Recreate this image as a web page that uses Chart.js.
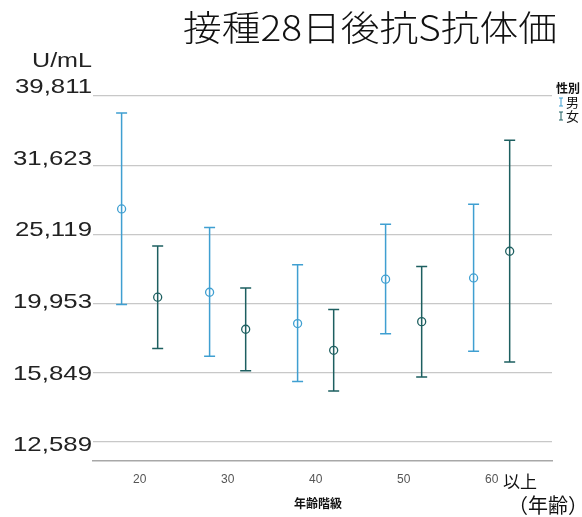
<!DOCTYPE html>
<html>
<head>
<meta charset="utf-8">
<script src="https://cdn.jsdelivr.net/npm/chart.js@4"></script>
<style>
  html, body { margin: 0; padding: 0; background: #fff; }
  #wrap { width: 582px; height: 517px; }
</style>
</head>
<body>
<div id="wrap"><canvas id="c" width="582" height="517"></canvas></div>
<script>
// 年齢階級
const ageGroups = ['20', '30', '40', '50', '60'];
const yTicks = [12589, 15849, 19953, 25119, 31623, 39811];

// 男性: 平均 / 下限 / 上限 (U/mL)
const maleMean = [27340, 20720, 18670, 21640, 21730];
const maleLow  = [19890, 16740, 15390, 18040, 17030];
const maleHigh = [37620, 25700, 22700, 25980, 27770];

// 女性
const femaleMean = [20380, 18320, 17080, 18790, 23750];
const femaleLow  = [17180, 15950, 14920, 15630, 16430];
const femaleHigh = [24170, 21020, 19560, 22570, 34360];

const maleColor = '#3f9fd1';
const femaleColor = '#1d5f60';
const offset = 0.205;

function points(means, shift) {
  return means.map((v, i) => ({ x: i + shift, y: v }));
}

// 横に伸ばした文字を描く
function wideText(ctx, text, x, y, width, align) {
  const w = ctx.measureText(text).width;
  const k = width / w;
  ctx.save();
  ctx.translate(x, y);
  ctx.scale(k, 1);
  ctx.textAlign = align;
  ctx.fillText(text, 0, 0);
  ctx.restore();
}

// 凡例の小さなエラーバー記号
function barIcon(ctx, x, y, color) {
  ctx.save();
  ctx.strokeStyle = color;
  ctx.lineWidth = 1;
  ctx.beginPath();
  ctx.moveTo(x, y - 4); ctx.lineTo(x, y + 4);
  ctx.moveTo(x - 2, y - 4); ctx.lineTo(x + 2, y - 4);
  ctx.moveTo(x - 2, y + 4); ctx.lineTo(x + 2, y + 4);
  ctx.stroke();
  ctx.restore();
}

// エラーバー描画
const errorBars = {
  id: 'errorBars',
  beforeDatasetsDraw(chart) {
    const { ctx, scales: { x, y } } = chart;
    const sets = [
      { low: maleLow, high: maleHigh, shift: -offset, color: maleColor },
      { low: femaleLow, high: femaleHigh, shift: offset, color: femaleColor }
    ];
    ctx.save();
    ctx.lineWidth = 1.5;
    sets.forEach(s => {
      ctx.strokeStyle = s.color;
      s.low.forEach((lo, i) => {
        const px = x.getPixelForValue(i + s.shift);
        const yl = y.getPixelForValue(lo);
        const yh = y.getPixelForValue(s.high[i]);
        ctx.beginPath();
        ctx.moveTo(px, yl); ctx.lineTo(px, yh);
        ctx.moveTo(px - 5.5, yl); ctx.lineTo(px + 5.5, yl);
        ctx.moveTo(px - 5.5, yh); ctx.lineTo(px + 5.5, yh);
        ctx.stroke();
      });
    });
    ctx.restore();
  }
};

// タイトル・単位・目盛ラベル・凡例などのテキスト
const labels = {
  id: 'labels',
  afterDraw(chart) {
    const ctx = chart.ctx;
    const y = chart.scales.y;
    ctx.save();
    ctx.fillStyle = '#111';
    ctx.textBaseline = 'alphabetic';
    ctx.font = '300 35px "Noto Sans CJK JP"';
    wideText(ctx, '接種28日後抗S抗体価', 557, 41, 374, 'right');

    ctx.fillStyle = '#222';
    ctx.font = '21px "Liberation Sans"';
    wideText(ctx, 'U/mL', 92, 67, 60, 'right');

    // 縦軸ラベル(少しずつ間隔が広い)
    ctx.font = '21px "Liberation Sans"';
    ctx.textBaseline = 'middle';
    const k = 79 / ctx.measureText('31,623').width;
    yTicks.forEach(v => {
      const g = y.getPixelForValue(v);
      const cy = 1.0347 * g - 12;
      ctx.save();
      ctx.translate(92, cy);
      ctx.scale(k, 1);
      ctx.textAlign = 'right';
      ctx.fillText(v.toLocaleString('en-US'), 0, 0);
      ctx.restore();
    });
    ctx.textBaseline = 'alphabetic';

    ctx.textAlign = 'left';
    ctx.font = 'bold 12px "Noto Sans CJK JP"';
    ctx.fillStyle = '#111';
    ctx.fillText('性別', 556, 93);
    barIcon(ctx, 561, 102, maleColor);
    barIcon(ctx, 561, 116, femaleColor);
    ctx.font = '13px "Noto Sans CJK JP"';
    ctx.fillStyle = '#111';
    ctx.fillText('男', 566, 107);
    ctx.fillText('女', 566, 121);

    ctx.font = '17px "Noto Sans CJK JP"';
    ctx.fillText('以上', 503, 488);
    ctx.font = 'bold 12px "Noto Sans CJK JP"';
    ctx.textAlign = 'center';
    ctx.fillText('年齢階級', 318, 508);
    ctx.font = '20px "Noto Sans CJK JP"';
    ctx.textAlign = 'left';
    ctx.fillText('（年齢）', 508, 513);
    ctx.restore();
  }
};

const pointStyle = {
  type: 'scatter',
  pointRadius: 4,
  pointHoverRadius: 4,
  pointBorderWidth: 1.3,
  backgroundColor: 'rgba(0,0,0,0)',
  showLine: false
};

new Chart(document.getElementById('c'), {
  type: 'scatter',
  data: {
    datasets: [
      Object.assign({ label: '男', data: points(maleMean, -offset), borderColor: maleColor }, pointStyle),
      Object.assign({ label: '女', data: points(femaleMean, offset), borderColor: femaleColor }, pointStyle)
    ]
  },
  options: {
    responsive: false,
    animation: false,
    layout: { padding: { top: 96, right: 30, left: 0, bottom: 0 } },
    plugins: { legend: { display: false }, tooltip: { enabled: false } },
    scales: {
      x: {
        type: 'linear',
        min: -0.53,
        max: 4.686,
        afterBuildTicks: s => { s.ticks = ageGroups.map((_, i) => ({ value: i })); },
        afterFit: s => { s.height = 56; },
        grid: { display: false, drawTicks: false },
        border: { display: true, color: '#a8a8a8', width: 1.5 },
        ticks: {
          padding: 11,
          color: '#555',
          font: { size: 12, family: 'Liberation Sans' },
          callback: (v, i) => ageGroups[i]
        }
      },
      y: {
        type: 'logarithmic',
        min: 11817,
        max: 39811,
        afterBuildTicks: s => { s.ticks = yTicks.map(v => ({ value: v })); },
        afterFit: s => { s.width = 93; },
        grid: { color: '#c8c8c8', lineWidth: 1.3, drawTicks: false },
        border: { display: false },
        ticks: { display: false }
      }
    }
  },
  plugins: [errorBars, labels]
});
</script>
</body>
</html>
